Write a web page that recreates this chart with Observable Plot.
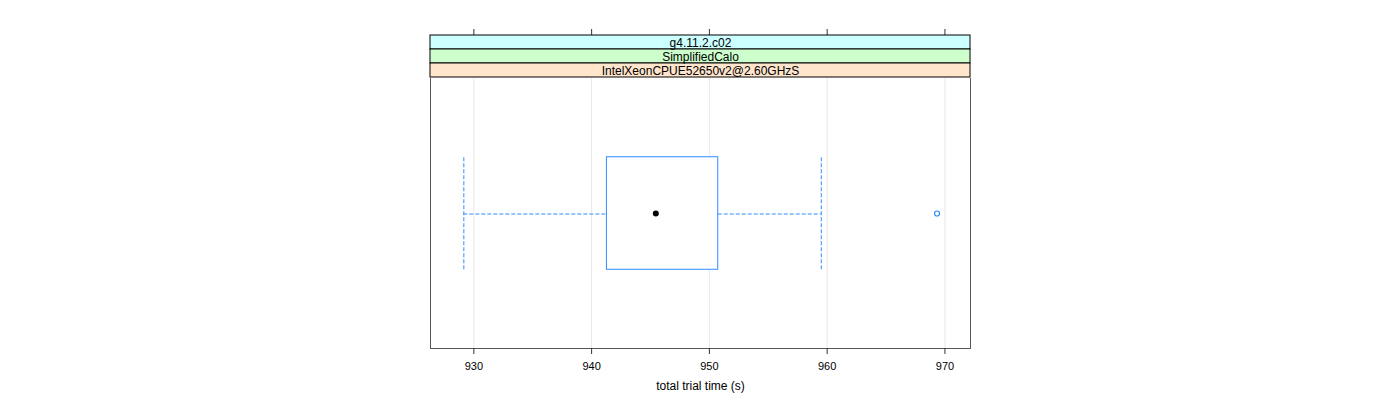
<!DOCTYPE html>
<html><head><meta charset="utf-8">
<script src="https://cdn.jsdelivr.net/npm/d3@7"></script>
<script src="https://cdn.jsdelivr.net/npm/@observablehq/plot@0.6"></script>
<style>
body{margin:0;background:#fff;}
#chart svg{display:block;background:#fff;}
</style></head><body><div id="chart"></div>
<script>
// strip labels (outermost first) and their backgrounds
const stripLabels = ["g4.11.2.c02", "SimplifiedCalo", "IntelXeonCPUE52650v2@2.60GHzS"];
const stripColors = ["#ccffff", "#ccffcc", "#ffe5cc"];
// x axis
const xTicks = [930, 940, 950, 960, 970];
const xDomain = [926.32, 972.17];
const xLabel = "total trial time (s)";
// box-and-whisker statistics
const groups = [1];
const whiskerLow = [929.15];
const q1 = [941.3];
const median = [945.45];
const q3 = [950.75];
const whiskerHigh = [959.5];
const outliers = [969.33];

const boxHalf = 0.25;
const font = "'Liberation Sans', Arial, Helvetica, sans-serif";
const blue = "#2f8bff";

const boxes = groups.map((g, i) => ({g, lo: whiskerLow[i], q1: q1[i], med: median[i], q3: q3[i], hi: whiskerHigh[i]}));
const outs = outliers.map(v => ({g: groups[0], v}));
const strips = stripLabels.map((label, i) => ({label, color: stripColors[i]}));

const stripPlot = Plot.plot({
  width: 1400, height: 78,
  marginLeft: 430, marginRight: 430, marginTop: 34, marginBottom: 0,
  style: {fontFamily: font, background: "#fff"},
  x: {domain: xDomain, axis: null},
  y: {domain: stripLabels, type: "band", padding: 0, axis: null},
  color: {type: "identity"},
  marks: [
    Plot.axisX(xTicks, {anchor: "top", tickSize: 6, tickFormat: () => "", stroke: "#333", label: null}),
    Plot.cell(strips, {y: "label", fill: "color", stroke: "black", inset: 0}),
    Plot.text(strips, {y: "label", text: "label", fill: "black", fontSize: 12, dy: 0.5})
  ]
});

const panelPlot = Plot.plot({
  width: 1400, height: 322,
  marginLeft: 430, marginRight: 430, marginTop: 0, marginBottom: 52,
  style: {fontFamily: font, background: "#fff"},
  x: {domain: xDomain, axis: null},
  y: {domain: [0.4, 1.6], axis: null},
  marks: [
    Plot.ruleX(xTicks, {stroke: "#e8e8e8"}),
    // whiskers
    Plot.ruleY(boxes, {y: "g", x1: "lo", x2: "q1", stroke: blue, strokeDasharray: "4,2", dy: 0.5}),
    Plot.ruleY(boxes, {y: "g", x1: "q3", x2: "hi", stroke: blue, strokeDasharray: "4,2", dy: 0.5}),
    Plot.ruleX(boxes, {x: "lo", y1: d => d.g - boxHalf, y2: d => d.g + boxHalf, stroke: blue, strokeDasharray: "4,2"}),
    Plot.ruleX(boxes, {x: "hi", y1: d => d.g - boxHalf, y2: d => d.g + boxHalf, stroke: blue, strokeDasharray: "4,2"}),
    // box
    Plot.rect(boxes, {x1: "q1", x2: "q3", y1: d => d.g - boxHalf, y2: d => d.g + boxHalf, fill: "white", stroke: blue}),
    // median
    Plot.dot(boxes, {x: "med", y: "g", r: 3, fill: "black", stroke: "none"}),
    // outliers
    Plot.dot(outs, {x: "v", y: "g", r: 2.5, fill: "none", stroke: blue, strokeWidth: 1.2}),
    Plot.frame({anchor: "left", stroke: "#555"}),
    Plot.frame({anchor: "right", stroke: "#555"}),
    Plot.frame({anchor: "bottom", stroke: "#555"}),
    Plot.axisX(xTicks, {anchor: "bottom", tickSize: 6, tickPadding: 8, fontSize: 11, stroke: "#333", fill: "black", label: null, tickFormat: d => String(d)}),
    Plot.text([xLabel], {frameAnchor: "bottom", dy: 41, lineAnchor: "bottom", text: d => d, fontSize: 12, fill: "black"})
  ]
});

const el = document.getElementById("chart");
el.appendChild(stripPlot);
el.appendChild(panelPlot);
</script>
</body></html>
